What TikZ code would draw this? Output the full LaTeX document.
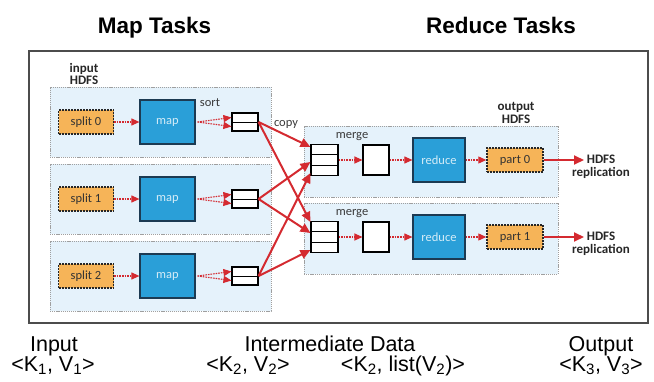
\documentclass[tikz,border=0pt]{standalone}
\usepackage{fontspec}
\setmainfont{Liberation Sans}
\newfontfamily\lbl{Carlito}
\usetikzlibrary{arrows.meta,calc}
\definecolor{hred}{HTML}{D42A30}
\definecolor{panelbg}{HTML}{E5F2FB}
\definecolor{taskblue}{HTML}{2A9FD8}
\definecolor{taskedge}{HTML}{1C3A52}
\definecolor{splitfill}{HTML}{F6B458}
\definecolor{lbltext}{HTML}{3A3A3A}
\begin{document}
\begin{tikzpicture}[x=1pt,y=-1pt,
  panel/.style={draw=gray!75, fill=panelbg, dash pattern=on 1.2pt off 0.9pt,
    line width=0.6pt, inner sep=0pt},
  task/.style={draw=taskedge, fill=taskblue, line width=1.2pt,
    minimum width=55pt, minimum height=44pt, inner sep=0pt,
    text=white!80!taskblue, font=\lbl\fontsize{12.5}{13}\selectfont},
  datafile/.style={draw=black!85, fill=splitfill, line width=1.4pt,
    dash pattern=on 2pt off 1pt, minimum width=55pt, minimum height=24pt,
    inner sep=0pt, text=black!80, font=\lbl\fontsize{12.5}{13}\selectfont},
  bufbox/.style={draw=black, fill=white, line width=1.1pt, inner sep=0pt},
  buftwo/.style={bufbox, minimum width=26pt, minimum height=18pt,
    path picture={\draw[line width=0.8pt] (path picture bounding box.west)
      -- (path picture bounding box.east);}},
  bufthree/.style={bufbox, minimum width=27pt, minimum height=31pt,
    path picture={
      \draw[line width=0.8pt]
        ($(path picture bounding box.north west)!1/3!(path picture bounding box.south west)$)
        -- ($(path picture bounding box.north east)!1/3!(path picture bounding box.south east)$)
        ($(path picture bounding box.north west)!2/3!(path picture bounding box.south west)$)
        -- ($(path picture bounding box.north east)!2/3!(path picture bounding box.south east)$);}},
  bufone/.style={bufbox, minimum width=26pt, minimum height=30pt},
  steplbl/.style={text=lbltext, inner sep=0pt, font=\lbl\fontsize{12.5}{13}\selectfont},
  hdfslbl/.style={text=black!85, inner sep=0pt, align=center,
    font=\lbl\bfseries\fontsize{13}{12.5}\selectfont},
  dasharrow/.style={draw=hred, line width=1.1pt, dash pattern=on 1.6pt off 1pt,
    -{Triangle[length=8pt,width=7pt]}},
  copyarrow/.style={draw=hred, line width=2pt,
    -{Triangle[length=10pt,width=9pt]}},
  title/.style={inner sep=0pt, anchor=base, font=\bfseries\fontsize{22.5}{27}\selectfont},
  kvtext/.style={inner sep=0pt, anchor=base, font=\fontsize{21.5}{24}\selectfont}
]
\useasboundingbox (0,0) rectangle (654,381);

% column headings
\node[title] (maphead) at (154.5,33) {Map Tasks};
\node[title] (redhead) at (501,33) {Reduce Tasks};

% outer frame
\node[draw=gray!60!black, line width=1.2pt, minimum width=619pt,
  minimum height=272pt, inner sep=0pt] (frame) at (338.5,187) {};

% map side
\foreach \i/\y in {0/122,1/199,2/276}{
  \node[panel, minimum width=221pt, minimum height=70pt] (mp\i) at (160.5,\y) {};
  \node[datafile] (sp\i) at (86,\y) {split \i};
  \node[task] (map\i) at (167.5,\y) {map};
  \node[buftwo] (so\i) at (245,\y) {};
  \coordinate (fan\i) at ($(map\i.east)+(2pt,0)$);
  \draw[dasharrow] (sp\i) -- (map\i);
  \draw[dasharrow] (fan\i) -- ([yshift=4.5pt]so\i.west);
  \draw[dasharrow] (fan\i) -- ([yshift=-4.5pt]so\i.west);
}
\node[hdfslbl] (inhdfs) at (84,74) {input\\HDFS};
\node[steplbl] (sortlbl) at (210,103) {sort};

% reduce side
\foreach \j/\y in {0/160,1/237}{
  \node[panel, minimum width=254pt, minimum height=71pt] (rp\j) at (431,\y+1.5) {};
  \node[bufthree] (mg\j) at (324.5,\y) {};
  \node[bufone] (wb\j) at (376,\y) {};
  \node[task, minimum width=52pt] (rd\j) at (439,\y) {reduce};
  \node[datafile, minimum width=56pt] (pt\j) at (515,\y) {part \j};
  \node[hdfslbl] (rep\j) at (601,\y+7) {HDFS\\replication};
  \node[steplbl] (mglbl\j) at (352,\y-23) {merge};
  \coordinate (out\j) at (584,\y);
  \draw[dasharrow] (mg\j) -- (wb\j);
  \draw[dasharrow] (wb\j) -- (rd\j);
  \draw[dasharrow] (rd\j) -- (pt\j);
  \draw[copyarrow] (pt\j) -- (out\j);
}
\node[hdfslbl] (outhdfs) at (516,113) {output\\HDFS};
\node[steplbl] (copylbl) at (286,124) {copy};

% shuffle: every sort buffer feeds every merge buffer
\draw[copyarrow] (so0.east) -- ([yshift=13pt]mg0.west);
\draw[copyarrow] (so1.east) -- ([yshift=-2pt]mg0.west);
\draw[copyarrow] (so2.east) -- ([yshift=-13pt]mg0.west);
\draw[copyarrow] (so0.east) -- ([yshift=15pt]mg1.west);
\draw[copyarrow] (so1.east) -- ([yshift=4pt]mg1.west);
\draw[copyarrow] (so2.east) -- ([yshift=-13pt]mg1.west);

% key/value types
\node[kvtext] (inlbl) at (54,351) {Input};
\node[kvtext] (inkv) at (53,371) {<K\textsubscript{1}, V\textsubscript{1}>};
\node[kvtext] (midlbl) at (330,351) {Intermediate Data};
\node[kvtext] (midkv) at (248,371) {<K\textsubscript{2}, V\textsubscript{2}>};
\node[kvtext] (midlist) at (403,371) {<K\textsubscript{2}, list(V\textsubscript{2})>};
\node[kvtext] (outlbl) at (601,351) {Output};
\node[kvtext] (outkv) at (601,371) {<K\textsubscript{3}, V\textsubscript{3}>};
\end{tikzpicture}
\end{document}
